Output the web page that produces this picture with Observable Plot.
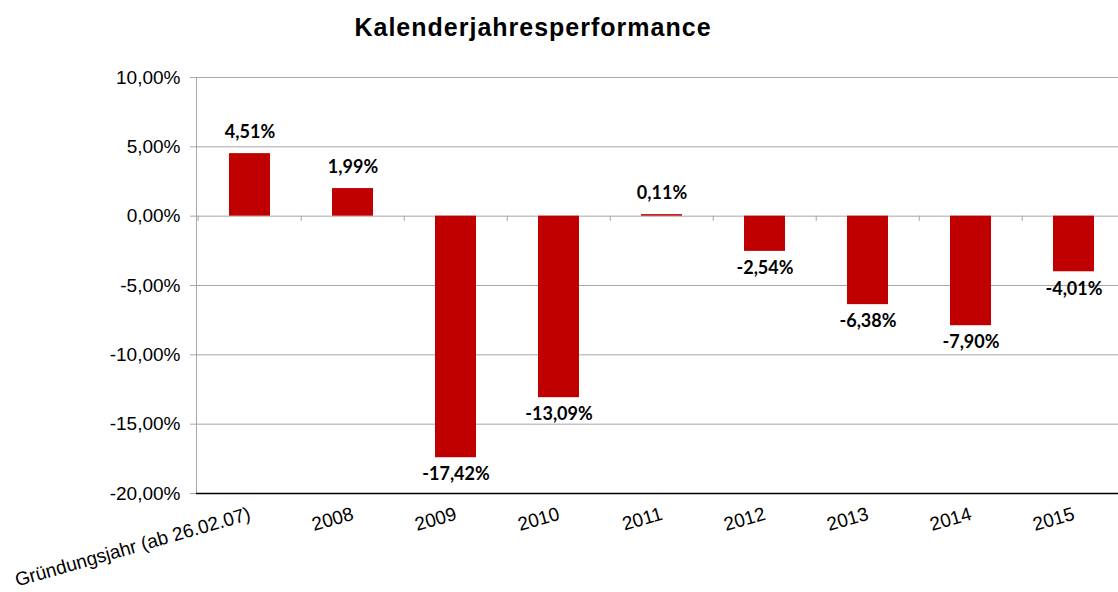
<!DOCTYPE html>
<html>
<head>
<meta charset="utf-8">
<script src="https://cdn.jsdelivr.net/npm/d3@7"></script>
<script src="https://cdn.jsdelivr.net/npm/@observablehq/plot@0.6"></script>
<style>
  html, body { margin: 0; padding: 0; background: #fff; overflow: hidden; }
  body { width: 1118px; height: 592px; position: relative; }
  #title {
    position: absolute; top: 13px; left: 0; width: 1066px; z-index: 2;
    text-align: center; line-height: 24px; letter-spacing: 1px;
    font: bold 25px "Liberation Sans", Arial, sans-serif; color: #000;
  }
  #chart { position: absolute; top: 0; left: 0; z-index: 1; }
</style>
</head>
<body>
<div id="chart"></div>
<div id="title">Kalenderjahresperformance</div>
<script>
const categories = ["Gründungsjahr (ab 26.02.07)", "2008", "2009", "2010", "2011", "2012", "2013", "2014", "2015"];
const values = [4.51, 1.99, -17.42, -13.09, 0.11, -2.54, -6.38, -7.90, -4.01];
const yTicks = [-20, -15, -10, -5, 0, 5, 10];

const data = categories.map((c, i) => ({cat: c, val: values[i]}));
const pct = v => v.toFixed(2).replace(".", ",") + "%";

const W = 1118, H = 592;
const xRange = [196, 1128];
const step = (xRange[1] - xRange[0]) / categories.length;

const chart = Plot.plot({
  width: W,
  height: H,
  marginTop: 77,
  marginBottom: 99,
  marginLeft: 196,
  marginRight: 0,
  style: {background: "#fff", fontFamily: "'Liberation Sans', Arial, sans-serif"},
  x: {domain: categories, range: xRange, paddingInner: 0.6, paddingOuter: 0.3, label: null},
  y: {domain: [-20, 10], label: null},
  marks: [
    Plot.ruleY(yTicks, {stroke: "#a6a6a6", strokeWidth: 1}),
    Plot.frame({anchor: "left", stroke: "#a6a6a6"}),
    Plot.ruleX(categories, {x: d => d, dx: -step / 2, y1: 0, y2: -0.38, stroke: "#a6a6a6"}),
    Plot.barY(data, {x: "cat", y: "val", fill: "#c00000"}),
    Plot.ruleY([-20], {stroke: "#000", strokeWidth: 1.3}),
    Plot.text(data.filter(d => d.val >= 0), {
      x: "cat", y: "val", text: d => pct(d.val), dy: -21,
      fontFamily: "Lato, sans-serif", fontWeight: "bold", fontSize: 18, fill: "#000"
    }),
    Plot.text(data.filter(d => d.val < 0), {
      x: "cat", y: "val", text: d => pct(d.val), dy: 17,
      fontFamily: "Lato, sans-serif", fontWeight: "bold", fontSize: 18, fill: "#000"
    }),
    Plot.axisY({
      ticks: yTicks, tickFormat: d => d.toFixed(2).replace(".", ",") + "%",
      tickSize: 6, tickPadding: 10, fontSize: 19, stroke: "#a6a6a6", fill: "#000", label: null
    }),
    Plot.axisX({
      tickRotate: -16, tickSize: 0, tickPadding: 20, fontSize: 19, fill: "#000", label: null
    })
  ]
});
document.getElementById("chart").appendChild(chart);
</script>
</body>
</html>
